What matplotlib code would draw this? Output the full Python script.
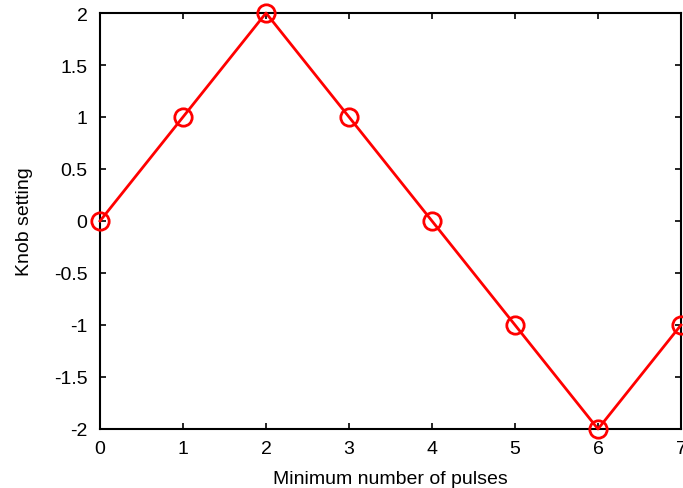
import matplotlib
matplotlib.use('Agg')
import matplotlib.pyplot as plt

plt.rcParams['font.family'] = ['Liberation Sans', 'DejaVu Sans']

# data
pulses = [0, 1, 2, 3, 4, 5, 6, 7]
knob = [0, 1, 2, 1, 0, -1, -2, -1]
xticks = [0, 1, 2, 3, 4, 5, 6, 7]
yticks = [-2, -1.5, -1, -0.5, 0, 0.5, 1, 1.5, 2]
ytick_labels = ['-2', '-1.5', '-1', '-0.5', '0', '0.5', '1', '1.5', '2']

fig = plt.figure(figsize=(6.83, 4.89), dpi=100)
ax = fig.add_axes([100 / 683, 1 - 430 / 489, 581 / 683, 416 / 489])

ax.plot(pulses, knob, color='#ff0000', linewidth=2, marker='o', markersize=12.5,
        markerfacecolor='none', markeredgecolor='#ff0000', markeredgewidth=2,
        clip_on=False, zorder=3)

ax.set_xlim(0, 7)
ax.set_ylim(-2, 2)
ax.set_xticks(xticks)
ax.set_yticks(yticks)
ax.set_yticklabels(ytick_labels)
ax.tick_params(direction='in', top=True, right=True, length=4, width=1.2,
               labelsize=14, colors='black')
ax.tick_params(axis='y', pad=9)
ax.tick_params(axis='x', pad=8)
for s in ax.spines.values():
    s.set_linewidth(1.5)

ax.set_xlabel('Minimum number of pulses', fontsize=14, labelpad=9)
ax.set_ylabel('Knob setting', fontsize=14, labelpad=15)

fig.savefig('out.png', dpi=100)
